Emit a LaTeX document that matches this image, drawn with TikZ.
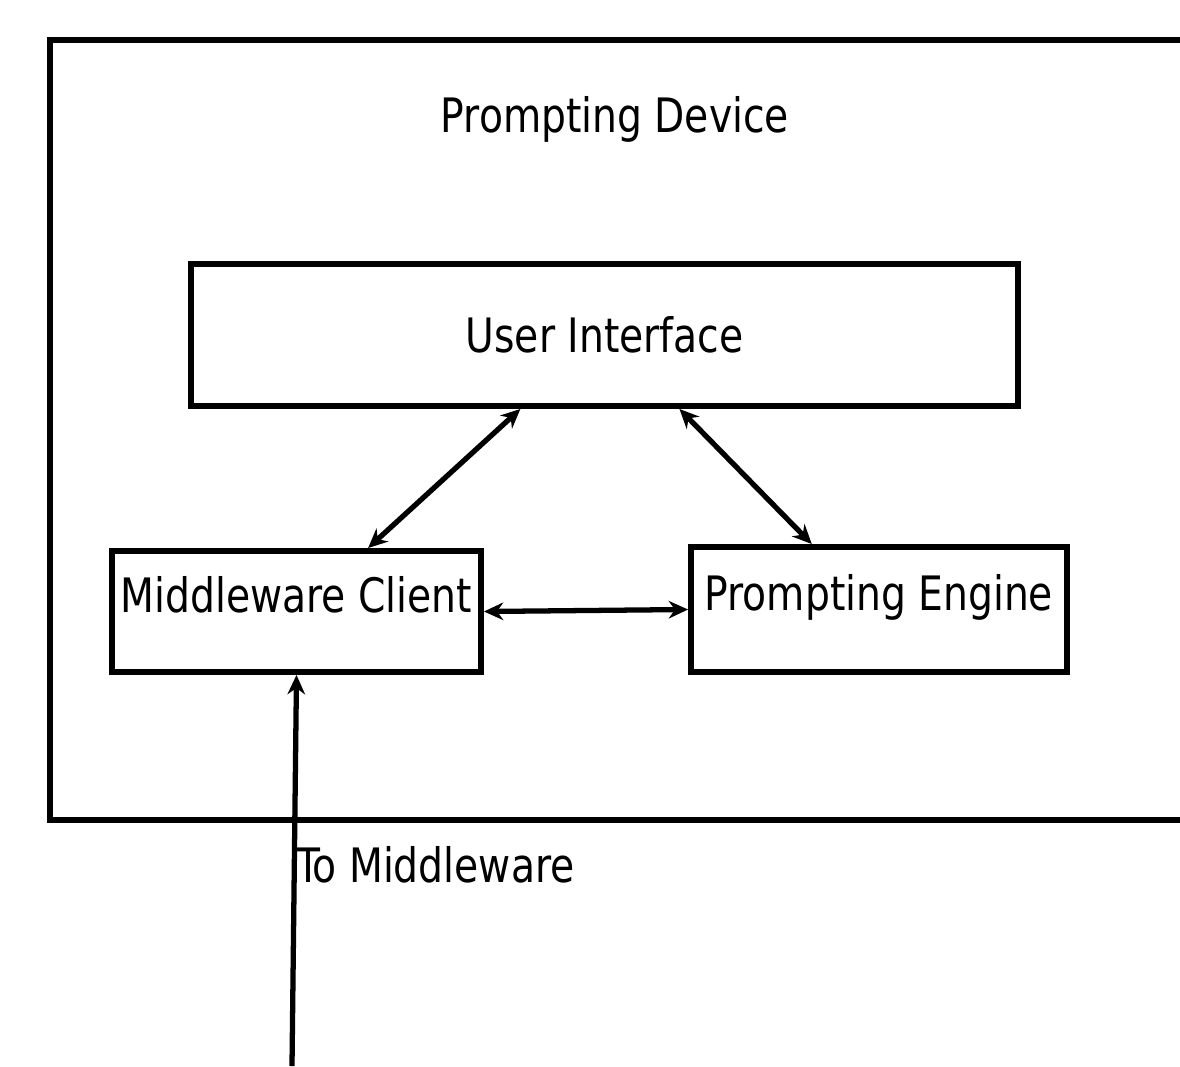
\documentclass[tikz,border=0pt]{standalone}
\usepackage{fontspec}
\setmainfont{DejaVu Sans Condensed}[FakeStretch=0.92]
\usetikzlibrary{shapes,arrows.meta,calc}

\begin{document}
\begin{tikzpicture}[x=0.02cm,y=-0.02cm,
  every node/.style={font=\fontsize{27pt}{32pt}\selectfont},
  box/.style={shape=rectangle,draw=black,line width=3.4pt,inner sep=0pt},
  link/.style={line width=3pt,{Stealth[length=11pt,width=10pt]}-{Stealth[length=11pt,width=10pt]}}]
\useasboundingbox (0,0) rectangle (1180,1066);
\clip (0,0) rectangle (1180,1066);
\draw[line width=3.4pt] (1220,40) -- (50,40) -- (50,820) -- (1220,820);
\node (4) at (615,119) {Prompting Device};
\node[box,minimum width=16.54cm,minimum height=2.84cm] (0) at (604.5,335) {User Interface};
\node[box,minimum width=7.38cm,minimum height=2.42cm,text depth=0.7cm] (1) at (296.5,611.5) {Middleware Client};
\node[box,minimum width=7.52cm,minimum height=2.5cm,text depth=0.7cm] (2) at (879,609.5) {Prompting Engine};
\node[anchor=west] (5) at (290,865) {To Middleware};
\coordinate (3) at (292,1066);

\draw[link] ($(0.south west)!0.399!(0.south east)$) -- ($(1.north west)!0.691!(1.north east)$);
\draw[link] ($(0.south west)!0.590!(0.south east)$) -- ($(2.north west)!0.324!(2.north east)$);
\draw[link] (1.east) -- (2.west);
\draw[line width=3pt,-{Stealth[length=11pt,width=10pt]}] (3) -- (1.south);

\end{tikzpicture}
\end{document}
